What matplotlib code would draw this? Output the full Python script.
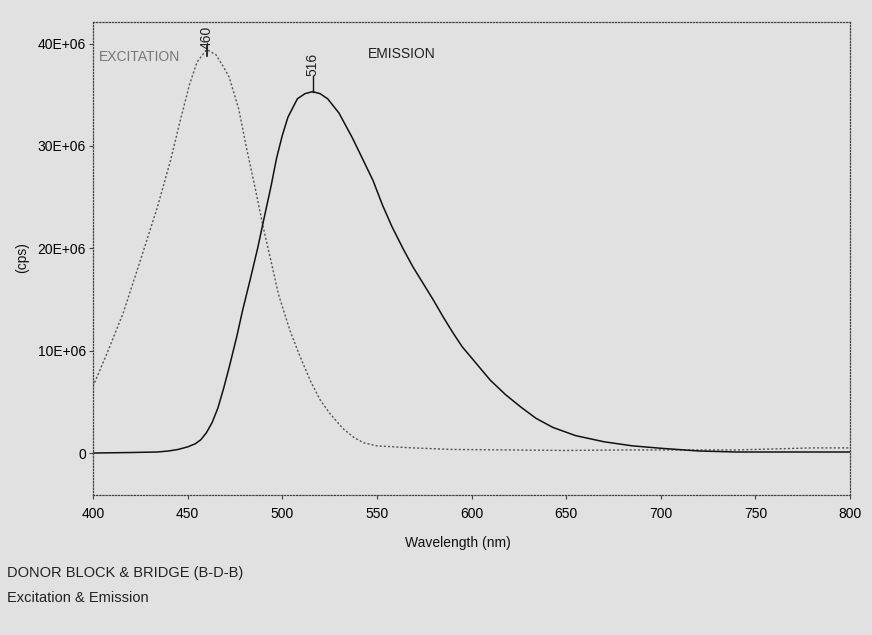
import matplotlib
matplotlib.use('Agg')
import matplotlib.pyplot as plt

#########################################################

# excitation scan (dotted, grey)
EX_NM = [400, 408, 416, 425, 434, 441, 446, 451, 455, 460, 465, 469, 472,
         477, 481, 486, 490, 494, 498, 504, 509, 515, 520, 525, 532, 538,
         543, 550, 569, 590, 620, 650, 680, 700, 720, 740, 760, 780, 800]
EX_CPS = [6.5, 10.0, 13.7, 18.8, 24.0, 28.6, 32.4, 36.0, 38.2, 39.4, 38.9,
          37.7, 36.7, 33.6, 29.9, 25.6, 22.0, 18.8, 15.5, 12.0, 9.6, 7.0,
          5.2, 3.9, 2.4, 1.5, 1.0, 0.7, 0.5, 0.35, 0.3, 0.25, 0.3, 0.3, 0.3,
          0.3, 0.4, 0.5, 0.5]

# emission scan (solid, black)
EM_NM = [400, 420, 434, 440, 445, 450, 454, 457, 460, 463, 466, 469, 472,
         476, 479, 483, 487, 490, 494, 497, 500, 503, 508, 512, 516, 520,
         524, 530, 537, 542, 548, 553, 558, 564, 569, 575, 580, 585, 590,
         595, 600, 605, 610, 618, 626, 634, 643, 655, 670, 685, 701, 720,
         740, 770, 800]
EM_CPS = [0.0, 0.05, 0.1, 0.2, 0.35, 0.6, 0.9, 1.3, 2.0, 3.0, 4.4, 6.3, 8.4,
          11.4, 13.9, 16.9, 20.0, 22.6, 26.0, 28.8, 31.0, 32.8, 34.6, 35.1,
          35.3, 35.1, 34.6, 33.2, 30.8, 28.9, 26.6, 24.2, 22.1, 19.9, 18.2,
          16.4, 14.9, 13.3, 11.8, 10.4, 9.3, 8.2, 7.1, 5.7, 4.5, 3.4, 2.5,
          1.7, 1.1, 0.7, 0.45, 0.2, 0.1, 0.1, 0.1]

EX_PEAK = 460
EM_PEAK = 516

XTICKS = [400, 450, 500, 550, 600, 650, 700, 750, 800]
YTICKS = [0, 10, 20, 30, 40]
YTICK_LABELS = ['0', '10E+06', '20E+06', '30E+06', '40E+06']

#########################################################

plt.rcParams['font.family'] = ['Liberation Sans', 'DejaVu Sans']

BG = '#e1e1e1'

fig = plt.figure(figsize=(8.72, 6.35), dpi=100, facecolor=BG)
ax = fig.add_axes([93/872, 1 - 495/635, 757/872, 473/635])
ax.set_facecolor(BG)

ax.plot(EX_NM, EX_CPS, color='#555555', lw=1.0, ls=(0, (1.5, 1.5)))
ax.plot(EM_NM, EM_CPS, color='#111111', lw=1.1)

ax.set_xlim(400, 800)
ax.set_ylim(-4.1, 42.1)

ax.set_xticks(XTICKS)
ax.set_yticks(YTICKS)
ax.set_yticklabels(YTICK_LABELS)
ax.tick_params(axis='both', labelsize=10, length=3, width=0.8, color='#444444')
ax.tick_params(axis='x', pad=6)
ax.tick_params(axis='y', pad=2)

for side in ['left', 'right', 'top', 'bottom']:
    ax.spines[side].set_linestyle((0, (1, 1.5)))
    ax.spines[side].set_color('#444444')
    ax.spines[side].set_linewidth(0.9)

# peak markers
ex_top = max(EX_CPS)
em_top = max(EM_CPS)
ax.plot([EX_PEAK, EX_PEAK], [ex_top - 0.6, ex_top + 0.4], color='#111111', lw=1.2)
ax.text(EX_PEAK, ex_top + 0.1, str(EX_PEAK), rotation=90, ha='center', va='bottom',
        fontsize=10, color='#222222')
ax.plot([EM_PEAK, EM_PEAK], [em_top, em_top + 1.5], color='#111111', lw=1.0)
ax.text(EM_PEAK, em_top + 1.5, str(EM_PEAK), rotation=90, ha='center', va='bottom',
        fontsize=10, color='#222222')

ax.text(403, 38.7, 'EXCITATION', fontsize=10, color='#777777', ha='left', va='center')
ax.text(545.5, 39.0, 'EMISSION', fontsize=10, color='#222222', ha='left', va='center')

fig.text(458/872, 1 - 543/635, 'Wavelength (nm)', fontsize=10,
         ha='center', va='center', color='#111111')
fig.text(22/872, 1 - 258/635, '(cps)', fontsize=10, rotation=90,
         ha='center', va='center', color='#111111')

fig.text(7/872, 1 - 573/635, 'DONOR BLOCK & BRIDGE (B-D-B)', fontsize=10.5,
         ha='left', va='center', color='#222222')
fig.text(7/872, 1 - 598/635, 'Excitation & Emission', fontsize=10.5,
         ha='left', va='center', color='#222222')

fig.savefig('out.png', dpi=100, facecolor=BG)
